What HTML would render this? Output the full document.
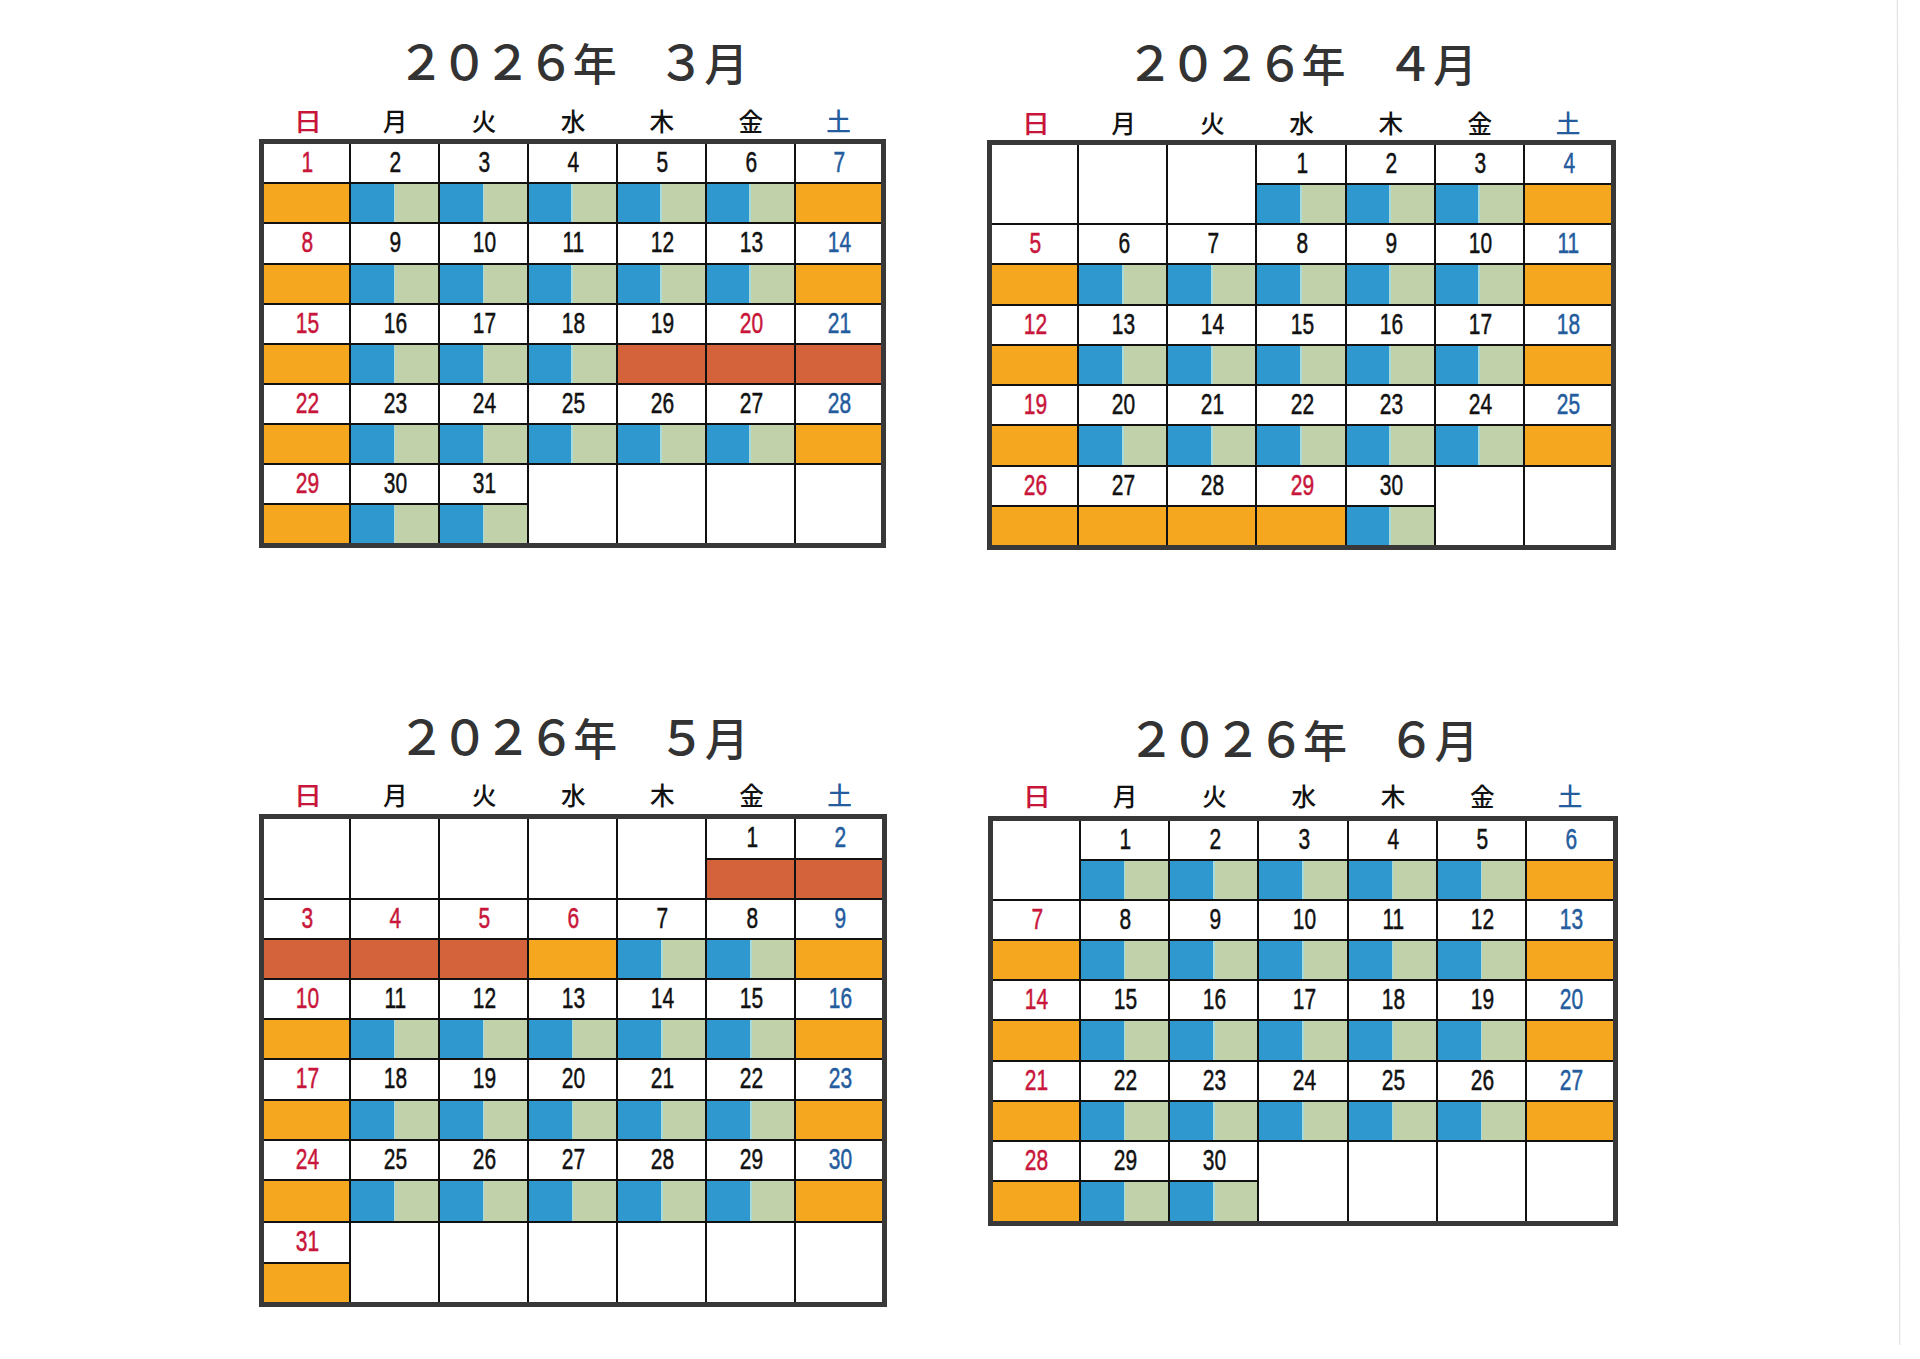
<!DOCTYPE html>
<html><head><meta charset="utf-8"><title>2026年 3月〜6月 カレンダー</title><style>
html,body{margin:0;padding:0;background:#fff;}
body{width:1920px;height:1359px;position:relative;overflow:hidden;}
.r{position:absolute;box-sizing:content-box;}
.n{position:absolute;text-align:center;font-family:"Liberation Sans","Noto Sans CJK JP",sans-serif;font-size:29.5px;-webkit-text-stroke:0.5px currentColor;}
.n span{display:inline-block;transform:translateX(1px) scaleX(0.71);}
.h{position:absolute;width:40px;text-align:center;font-family:"Liberation Sans","Noto Sans CJK JP",sans-serif;font-weight:500;font-size:24.6px;line-height:24px;}
.td{position:absolute;width:80px;text-align:center;font-family:"Liberation Sans","Noto Sans CJK JP",sans-serif;font-weight:500;font-size:48px;line-height:48px;color:#333;}
.tk{position:absolute;width:80px;text-align:center;font-family:"Liberation Sans","Noto Sans CJK JP",sans-serif;font-weight:500;font-size:44px;line-height:44px;color:#333;}
.edge{position:absolute;left:0;top:0;width:1920px;height:1359px;pointer-events:none;}
</style></head><body>
<div class="r" style="left:264px;top:183.4px;width:86px;height:40.05px;background:#f5a81f;"></div>
<div class="r" style="left:350px;top:183.4px;width:43.65px;height:40.05px;background:#2e98cf;"></div>
<div class="r" style="left:393.65px;top:183.4px;width:45.25px;height:40.05px;background:#c1d1aa;"></div>
<div class="r" style="left:393.65px;top:183.4px;width:1.6px;height:40.05px;background:#a8dbdc;"></div>
<div class="r" style="left:438.9px;top:183.4px;width:43.65px;height:40.05px;background:#2e98cf;"></div>
<div class="r" style="left:482.55px;top:183.4px;width:45.25px;height:40.05px;background:#c1d1aa;"></div>
<div class="r" style="left:482.55px;top:183.4px;width:1.6px;height:40.05px;background:#a8dbdc;"></div>
<div class="r" style="left:527.8px;top:183.4px;width:43.65px;height:40.05px;background:#2e98cf;"></div>
<div class="r" style="left:571.45px;top:183.4px;width:45.25px;height:40.05px;background:#c1d1aa;"></div>
<div class="r" style="left:571.45px;top:183.4px;width:1.6px;height:40.05px;background:#a8dbdc;"></div>
<div class="r" style="left:616.7px;top:183.4px;width:43.65px;height:40.05px;background:#2e98cf;"></div>
<div class="r" style="left:660.35px;top:183.4px;width:45.25px;height:40.05px;background:#c1d1aa;"></div>
<div class="r" style="left:660.35px;top:183.4px;width:1.6px;height:40.05px;background:#a8dbdc;"></div>
<div class="r" style="left:705.6px;top:183.4px;width:43.65px;height:40.05px;background:#2e98cf;"></div>
<div class="r" style="left:749.25px;top:183.4px;width:45.25px;height:40.05px;background:#c1d1aa;"></div>
<div class="r" style="left:749.25px;top:183.4px;width:1.6px;height:40.05px;background:#a8dbdc;"></div>
<div class="r" style="left:794.5px;top:183.4px;width:86.5px;height:40.05px;background:#f5a81f;"></div>
<div class="r" style="left:264px;top:263.5px;width:86px;height:40.05px;background:#f5a81f;"></div>
<div class="r" style="left:350px;top:263.5px;width:43.65px;height:40.05px;background:#2e98cf;"></div>
<div class="r" style="left:393.65px;top:263.5px;width:45.25px;height:40.05px;background:#c1d1aa;"></div>
<div class="r" style="left:393.65px;top:263.5px;width:1.6px;height:40.05px;background:#a8dbdc;"></div>
<div class="r" style="left:438.9px;top:263.5px;width:43.65px;height:40.05px;background:#2e98cf;"></div>
<div class="r" style="left:482.55px;top:263.5px;width:45.25px;height:40.05px;background:#c1d1aa;"></div>
<div class="r" style="left:482.55px;top:263.5px;width:1.6px;height:40.05px;background:#a8dbdc;"></div>
<div class="r" style="left:527.8px;top:263.5px;width:43.65px;height:40.05px;background:#2e98cf;"></div>
<div class="r" style="left:571.45px;top:263.5px;width:45.25px;height:40.05px;background:#c1d1aa;"></div>
<div class="r" style="left:571.45px;top:263.5px;width:1.6px;height:40.05px;background:#a8dbdc;"></div>
<div class="r" style="left:616.7px;top:263.5px;width:43.65px;height:40.05px;background:#2e98cf;"></div>
<div class="r" style="left:660.35px;top:263.5px;width:45.25px;height:40.05px;background:#c1d1aa;"></div>
<div class="r" style="left:660.35px;top:263.5px;width:1.6px;height:40.05px;background:#a8dbdc;"></div>
<div class="r" style="left:705.6px;top:263.5px;width:43.65px;height:40.05px;background:#2e98cf;"></div>
<div class="r" style="left:749.25px;top:263.5px;width:45.25px;height:40.05px;background:#c1d1aa;"></div>
<div class="r" style="left:749.25px;top:263.5px;width:1.6px;height:40.05px;background:#a8dbdc;"></div>
<div class="r" style="left:794.5px;top:263.5px;width:86.5px;height:40.05px;background:#f5a81f;"></div>
<div class="r" style="left:264px;top:343.6px;width:86px;height:40.05px;background:#f5a81f;"></div>
<div class="r" style="left:350px;top:343.6px;width:43.65px;height:40.05px;background:#2e98cf;"></div>
<div class="r" style="left:393.65px;top:343.6px;width:45.25px;height:40.05px;background:#c1d1aa;"></div>
<div class="r" style="left:393.65px;top:343.6px;width:1.6px;height:40.05px;background:#a8dbdc;"></div>
<div class="r" style="left:438.9px;top:343.6px;width:43.65px;height:40.05px;background:#2e98cf;"></div>
<div class="r" style="left:482.55px;top:343.6px;width:45.25px;height:40.05px;background:#c1d1aa;"></div>
<div class="r" style="left:482.55px;top:343.6px;width:1.6px;height:40.05px;background:#a8dbdc;"></div>
<div class="r" style="left:527.8px;top:343.6px;width:43.65px;height:40.05px;background:#2e98cf;"></div>
<div class="r" style="left:571.45px;top:343.6px;width:45.25px;height:40.05px;background:#c1d1aa;"></div>
<div class="r" style="left:571.45px;top:343.6px;width:1.6px;height:40.05px;background:#a8dbdc;"></div>
<div class="r" style="left:616.7px;top:343.6px;width:88.9px;height:40.05px;background:#d4623a;"></div>
<div class="r" style="left:705.6px;top:343.6px;width:88.9px;height:40.05px;background:#d4623a;"></div>
<div class="r" style="left:794.5px;top:343.6px;width:86.5px;height:40.05px;background:#d4623a;"></div>
<div class="r" style="left:264px;top:423.7px;width:86px;height:40.05px;background:#f5a81f;"></div>
<div class="r" style="left:350px;top:423.7px;width:43.65px;height:40.05px;background:#2e98cf;"></div>
<div class="r" style="left:393.65px;top:423.7px;width:45.25px;height:40.05px;background:#c1d1aa;"></div>
<div class="r" style="left:393.65px;top:423.7px;width:1.6px;height:40.05px;background:#a8dbdc;"></div>
<div class="r" style="left:438.9px;top:423.7px;width:43.65px;height:40.05px;background:#2e98cf;"></div>
<div class="r" style="left:482.55px;top:423.7px;width:45.25px;height:40.05px;background:#c1d1aa;"></div>
<div class="r" style="left:482.55px;top:423.7px;width:1.6px;height:40.05px;background:#a8dbdc;"></div>
<div class="r" style="left:527.8px;top:423.7px;width:43.65px;height:40.05px;background:#2e98cf;"></div>
<div class="r" style="left:571.45px;top:423.7px;width:45.25px;height:40.05px;background:#c1d1aa;"></div>
<div class="r" style="left:571.45px;top:423.7px;width:1.6px;height:40.05px;background:#a8dbdc;"></div>
<div class="r" style="left:616.7px;top:423.7px;width:43.65px;height:40.05px;background:#2e98cf;"></div>
<div class="r" style="left:660.35px;top:423.7px;width:45.25px;height:40.05px;background:#c1d1aa;"></div>
<div class="r" style="left:660.35px;top:423.7px;width:1.6px;height:40.05px;background:#a8dbdc;"></div>
<div class="r" style="left:705.6px;top:423.7px;width:43.65px;height:40.05px;background:#2e98cf;"></div>
<div class="r" style="left:749.25px;top:423.7px;width:45.25px;height:40.05px;background:#c1d1aa;"></div>
<div class="r" style="left:749.25px;top:423.7px;width:1.6px;height:40.05px;background:#a8dbdc;"></div>
<div class="r" style="left:794.5px;top:423.7px;width:86.5px;height:40.05px;background:#f5a81f;"></div>
<div class="r" style="left:264px;top:503.8px;width:86px;height:39.5px;background:#f5a81f;"></div>
<div class="r" style="left:350px;top:503.8px;width:43.65px;height:39.5px;background:#2e98cf;"></div>
<div class="r" style="left:393.65px;top:503.8px;width:45.25px;height:39.5px;background:#c1d1aa;"></div>
<div class="r" style="left:393.65px;top:503.8px;width:1.6px;height:39.5px;background:#a8dbdc;"></div>
<div class="r" style="left:438.9px;top:503.8px;width:43.65px;height:39.5px;background:#2e98cf;"></div>
<div class="r" style="left:482.55px;top:503.8px;width:45.25px;height:39.5px;background:#c1d1aa;"></div>
<div class="r" style="left:482.55px;top:503.8px;width:1.6px;height:39.5px;background:#a8dbdc;"></div>
<div class="r" style="left:349px;top:143.8px;width:2px;height:399.5px;background:#111;"></div>
<div class="r" style="left:437.9px;top:143.8px;width:2px;height:399.5px;background:#111;"></div>
<div class="r" style="left:526.8px;top:143.8px;width:2px;height:399.5px;background:#111;"></div>
<div class="r" style="left:615.7px;top:143.8px;width:2px;height:399.5px;background:#111;"></div>
<div class="r" style="left:704.6px;top:143.8px;width:2px;height:399.5px;background:#111;"></div>
<div class="r" style="left:793.5px;top:143.8px;width:2px;height:399.5px;background:#111;"></div>
<div class="r" style="left:264px;top:182.4px;width:617px;height:2px;background:#111;"></div>
<div class="r" style="left:264px;top:222.45px;width:617px;height:2px;background:#111;"></div>
<div class="r" style="left:264px;top:262.5px;width:617px;height:2px;background:#111;"></div>
<div class="r" style="left:264px;top:302.55px;width:617px;height:2px;background:#111;"></div>
<div class="r" style="left:264px;top:342.6px;width:617px;height:2px;background:#111;"></div>
<div class="r" style="left:264px;top:382.65px;width:617px;height:2px;background:#111;"></div>
<div class="r" style="left:264px;top:422.7px;width:617px;height:2px;background:#111;"></div>
<div class="r" style="left:264px;top:462.75px;width:617px;height:2px;background:#111;"></div>
<div class="r" style="left:264px;top:502.8px;width:264.8px;height:2px;background:#111;"></div>
<div class="r" style="left:259px;top:138.8px;width:617px;height:399.5px;border:5px solid #383838;"></div>
<div class="r" style="left:1256.4px;top:183.8px;width:43.75px;height:40.28px;background:#2e98cf;"></div>
<div class="r" style="left:1300.15px;top:183.8px;width:45.35px;height:40.28px;background:#c1d1aa;"></div>
<div class="r" style="left:1300.15px;top:183.8px;width:1.6px;height:40.28px;background:#a8dbdc;"></div>
<div class="r" style="left:1345.5px;top:183.8px;width:43.75px;height:40.28px;background:#2e98cf;"></div>
<div class="r" style="left:1389.25px;top:183.8px;width:45.35px;height:40.28px;background:#c1d1aa;"></div>
<div class="r" style="left:1389.25px;top:183.8px;width:1.6px;height:40.28px;background:#a8dbdc;"></div>
<div class="r" style="left:1434.6px;top:183.8px;width:43.75px;height:40.28px;background:#2e98cf;"></div>
<div class="r" style="left:1478.35px;top:183.8px;width:45.35px;height:40.28px;background:#c1d1aa;"></div>
<div class="r" style="left:1478.35px;top:183.8px;width:1.6px;height:40.28px;background:#a8dbdc;"></div>
<div class="r" style="left:1523.7px;top:183.8px;width:87.1px;height:40.28px;background:#f5a81f;"></div>
<div class="r" style="left:992px;top:264.36px;width:86.2px;height:40.28px;background:#f5a81f;"></div>
<div class="r" style="left:1078.2px;top:264.36px;width:43.75px;height:40.28px;background:#2e98cf;"></div>
<div class="r" style="left:1121.95px;top:264.36px;width:45.35px;height:40.28px;background:#c1d1aa;"></div>
<div class="r" style="left:1121.95px;top:264.36px;width:1.6px;height:40.28px;background:#a8dbdc;"></div>
<div class="r" style="left:1167.3px;top:264.36px;width:43.75px;height:40.28px;background:#2e98cf;"></div>
<div class="r" style="left:1211.05px;top:264.36px;width:45.35px;height:40.28px;background:#c1d1aa;"></div>
<div class="r" style="left:1211.05px;top:264.36px;width:1.6px;height:40.28px;background:#a8dbdc;"></div>
<div class="r" style="left:1256.4px;top:264.36px;width:43.75px;height:40.28px;background:#2e98cf;"></div>
<div class="r" style="left:1300.15px;top:264.36px;width:45.35px;height:40.28px;background:#c1d1aa;"></div>
<div class="r" style="left:1300.15px;top:264.36px;width:1.6px;height:40.28px;background:#a8dbdc;"></div>
<div class="r" style="left:1345.5px;top:264.36px;width:43.75px;height:40.28px;background:#2e98cf;"></div>
<div class="r" style="left:1389.25px;top:264.36px;width:45.35px;height:40.28px;background:#c1d1aa;"></div>
<div class="r" style="left:1389.25px;top:264.36px;width:1.6px;height:40.28px;background:#a8dbdc;"></div>
<div class="r" style="left:1434.6px;top:264.36px;width:43.75px;height:40.28px;background:#2e98cf;"></div>
<div class="r" style="left:1478.35px;top:264.36px;width:45.35px;height:40.28px;background:#c1d1aa;"></div>
<div class="r" style="left:1478.35px;top:264.36px;width:1.6px;height:40.28px;background:#a8dbdc;"></div>
<div class="r" style="left:1523.7px;top:264.36px;width:87.1px;height:40.28px;background:#f5a81f;"></div>
<div class="r" style="left:992px;top:344.92px;width:86.2px;height:40.28px;background:#f5a81f;"></div>
<div class="r" style="left:1078.2px;top:344.92px;width:43.75px;height:40.28px;background:#2e98cf;"></div>
<div class="r" style="left:1121.95px;top:344.92px;width:45.35px;height:40.28px;background:#c1d1aa;"></div>
<div class="r" style="left:1121.95px;top:344.92px;width:1.6px;height:40.28px;background:#a8dbdc;"></div>
<div class="r" style="left:1167.3px;top:344.92px;width:43.75px;height:40.28px;background:#2e98cf;"></div>
<div class="r" style="left:1211.05px;top:344.92px;width:45.35px;height:40.28px;background:#c1d1aa;"></div>
<div class="r" style="left:1211.05px;top:344.92px;width:1.6px;height:40.28px;background:#a8dbdc;"></div>
<div class="r" style="left:1256.4px;top:344.92px;width:43.75px;height:40.28px;background:#2e98cf;"></div>
<div class="r" style="left:1300.15px;top:344.92px;width:45.35px;height:40.28px;background:#c1d1aa;"></div>
<div class="r" style="left:1300.15px;top:344.92px;width:1.6px;height:40.28px;background:#a8dbdc;"></div>
<div class="r" style="left:1345.5px;top:344.92px;width:43.75px;height:40.28px;background:#2e98cf;"></div>
<div class="r" style="left:1389.25px;top:344.92px;width:45.35px;height:40.28px;background:#c1d1aa;"></div>
<div class="r" style="left:1389.25px;top:344.92px;width:1.6px;height:40.28px;background:#a8dbdc;"></div>
<div class="r" style="left:1434.6px;top:344.92px;width:43.75px;height:40.28px;background:#2e98cf;"></div>
<div class="r" style="left:1478.35px;top:344.92px;width:45.35px;height:40.28px;background:#c1d1aa;"></div>
<div class="r" style="left:1478.35px;top:344.92px;width:1.6px;height:40.28px;background:#a8dbdc;"></div>
<div class="r" style="left:1523.7px;top:344.92px;width:87.1px;height:40.28px;background:#f5a81f;"></div>
<div class="r" style="left:992px;top:425.48px;width:86.2px;height:40.28px;background:#f5a81f;"></div>
<div class="r" style="left:1078.2px;top:425.48px;width:43.75px;height:40.28px;background:#2e98cf;"></div>
<div class="r" style="left:1121.95px;top:425.48px;width:45.35px;height:40.28px;background:#c1d1aa;"></div>
<div class="r" style="left:1121.95px;top:425.48px;width:1.6px;height:40.28px;background:#a8dbdc;"></div>
<div class="r" style="left:1167.3px;top:425.48px;width:43.75px;height:40.28px;background:#2e98cf;"></div>
<div class="r" style="left:1211.05px;top:425.48px;width:45.35px;height:40.28px;background:#c1d1aa;"></div>
<div class="r" style="left:1211.05px;top:425.48px;width:1.6px;height:40.28px;background:#a8dbdc;"></div>
<div class="r" style="left:1256.4px;top:425.48px;width:43.75px;height:40.28px;background:#2e98cf;"></div>
<div class="r" style="left:1300.15px;top:425.48px;width:45.35px;height:40.28px;background:#c1d1aa;"></div>
<div class="r" style="left:1300.15px;top:425.48px;width:1.6px;height:40.28px;background:#a8dbdc;"></div>
<div class="r" style="left:1345.5px;top:425.48px;width:43.75px;height:40.28px;background:#2e98cf;"></div>
<div class="r" style="left:1389.25px;top:425.48px;width:45.35px;height:40.28px;background:#c1d1aa;"></div>
<div class="r" style="left:1389.25px;top:425.48px;width:1.6px;height:40.28px;background:#a8dbdc;"></div>
<div class="r" style="left:1434.6px;top:425.48px;width:43.75px;height:40.28px;background:#2e98cf;"></div>
<div class="r" style="left:1478.35px;top:425.48px;width:45.35px;height:40.28px;background:#c1d1aa;"></div>
<div class="r" style="left:1478.35px;top:425.48px;width:1.6px;height:40.28px;background:#a8dbdc;"></div>
<div class="r" style="left:1523.7px;top:425.48px;width:87.1px;height:40.28px;background:#f5a81f;"></div>
<div class="r" style="left:992px;top:506.04px;width:86.2px;height:38.96px;background:#f5a81f;"></div>
<div class="r" style="left:1078.2px;top:506.04px;width:89.1px;height:38.96px;background:#f5a81f;"></div>
<div class="r" style="left:1167.3px;top:506.04px;width:89.1px;height:38.96px;background:#f5a81f;"></div>
<div class="r" style="left:1256.4px;top:506.04px;width:89.1px;height:38.96px;background:#f5a81f;"></div>
<div class="r" style="left:1345.5px;top:506.04px;width:43.75px;height:38.96px;background:#2e98cf;"></div>
<div class="r" style="left:1389.25px;top:506.04px;width:45.35px;height:38.96px;background:#c1d1aa;"></div>
<div class="r" style="left:1389.25px;top:506.04px;width:1.6px;height:38.96px;background:#a8dbdc;"></div>
<div class="r" style="left:1077.2px;top:145px;width:2px;height:400px;background:#111;"></div>
<div class="r" style="left:1166.3px;top:145px;width:2px;height:400px;background:#111;"></div>
<div class="r" style="left:1255.4px;top:145px;width:2px;height:400px;background:#111;"></div>
<div class="r" style="left:1344.5px;top:145px;width:2px;height:400px;background:#111;"></div>
<div class="r" style="left:1433.6px;top:145px;width:2px;height:400px;background:#111;"></div>
<div class="r" style="left:1522.7px;top:145px;width:2px;height:400px;background:#111;"></div>
<div class="r" style="left:1255.4px;top:182.8px;width:355.4px;height:2px;background:#111;"></div>
<div class="r" style="left:992px;top:223.08px;width:618.8px;height:2px;background:#111;"></div>
<div class="r" style="left:992px;top:263.36px;width:618.8px;height:2px;background:#111;"></div>
<div class="r" style="left:992px;top:303.64px;width:618.8px;height:2px;background:#111;"></div>
<div class="r" style="left:992px;top:343.92px;width:618.8px;height:2px;background:#111;"></div>
<div class="r" style="left:992px;top:384.2px;width:618.8px;height:2px;background:#111;"></div>
<div class="r" style="left:992px;top:424.48px;width:618.8px;height:2px;background:#111;"></div>
<div class="r" style="left:992px;top:464.76px;width:618.8px;height:2px;background:#111;"></div>
<div class="r" style="left:992px;top:505.04px;width:443.6px;height:2px;background:#111;"></div>
<div class="r" style="left:987px;top:140px;width:618.8px;height:400px;border:5px solid #383838;"></div>
<div class="r" style="left:706.24px;top:858.5px;width:89.06px;height:40.1px;background:#d4623a;"></div>
<div class="r" style="left:795.3px;top:858.5px;width:87px;height:40.1px;background:#d4623a;"></div>
<div class="r" style="left:263.8px;top:938.6px;width:86.2px;height:40.1px;background:#d4623a;"></div>
<div class="r" style="left:350px;top:938.6px;width:89.06px;height:40.1px;background:#d4623a;"></div>
<div class="r" style="left:439.06px;top:938.6px;width:89.06px;height:40.1px;background:#d4623a;"></div>
<div class="r" style="left:528.12px;top:938.6px;width:89.06px;height:40.1px;background:#f5a81f;"></div>
<div class="r" style="left:617.18px;top:938.6px;width:43.73px;height:40.1px;background:#2e98cf;"></div>
<div class="r" style="left:660.91px;top:938.6px;width:45.33px;height:40.1px;background:#c1d1aa;"></div>
<div class="r" style="left:660.91px;top:938.6px;width:1.6px;height:40.1px;background:#a8dbdc;"></div>
<div class="r" style="left:706.24px;top:938.6px;width:43.73px;height:40.1px;background:#2e98cf;"></div>
<div class="r" style="left:749.97px;top:938.6px;width:45.33px;height:40.1px;background:#c1d1aa;"></div>
<div class="r" style="left:749.97px;top:938.6px;width:1.6px;height:40.1px;background:#a8dbdc;"></div>
<div class="r" style="left:795.3px;top:938.6px;width:87px;height:40.1px;background:#f5a81f;"></div>
<div class="r" style="left:263.8px;top:1018.8px;width:86.2px;height:40.1px;background:#f5a81f;"></div>
<div class="r" style="left:350px;top:1018.8px;width:43.73px;height:40.1px;background:#2e98cf;"></div>
<div class="r" style="left:393.73px;top:1018.8px;width:45.33px;height:40.1px;background:#c1d1aa;"></div>
<div class="r" style="left:393.73px;top:1018.8px;width:1.6px;height:40.1px;background:#a8dbdc;"></div>
<div class="r" style="left:439.06px;top:1018.8px;width:43.73px;height:40.1px;background:#2e98cf;"></div>
<div class="r" style="left:482.79px;top:1018.8px;width:45.33px;height:40.1px;background:#c1d1aa;"></div>
<div class="r" style="left:482.79px;top:1018.8px;width:1.6px;height:40.1px;background:#a8dbdc;"></div>
<div class="r" style="left:528.12px;top:1018.8px;width:43.73px;height:40.1px;background:#2e98cf;"></div>
<div class="r" style="left:571.85px;top:1018.8px;width:45.33px;height:40.1px;background:#c1d1aa;"></div>
<div class="r" style="left:571.85px;top:1018.8px;width:1.6px;height:40.1px;background:#a8dbdc;"></div>
<div class="r" style="left:617.18px;top:1018.8px;width:43.73px;height:40.1px;background:#2e98cf;"></div>
<div class="r" style="left:660.91px;top:1018.8px;width:45.33px;height:40.1px;background:#c1d1aa;"></div>
<div class="r" style="left:660.91px;top:1018.8px;width:1.6px;height:40.1px;background:#a8dbdc;"></div>
<div class="r" style="left:706.24px;top:1018.8px;width:43.73px;height:40.1px;background:#2e98cf;"></div>
<div class="r" style="left:749.97px;top:1018.8px;width:45.33px;height:40.1px;background:#c1d1aa;"></div>
<div class="r" style="left:749.97px;top:1018.8px;width:1.6px;height:40.1px;background:#a8dbdc;"></div>
<div class="r" style="left:795.3px;top:1018.8px;width:87px;height:40.1px;background:#f5a81f;"></div>
<div class="r" style="left:263.8px;top:1099.8px;width:86.2px;height:40.2px;background:#f5a81f;"></div>
<div class="r" style="left:350px;top:1099.8px;width:43.73px;height:40.2px;background:#2e98cf;"></div>
<div class="r" style="left:393.73px;top:1099.8px;width:45.33px;height:40.2px;background:#c1d1aa;"></div>
<div class="r" style="left:393.73px;top:1099.8px;width:1.6px;height:40.2px;background:#a8dbdc;"></div>
<div class="r" style="left:439.06px;top:1099.8px;width:43.73px;height:40.2px;background:#2e98cf;"></div>
<div class="r" style="left:482.79px;top:1099.8px;width:45.33px;height:40.2px;background:#c1d1aa;"></div>
<div class="r" style="left:482.79px;top:1099.8px;width:1.6px;height:40.2px;background:#a8dbdc;"></div>
<div class="r" style="left:528.12px;top:1099.8px;width:43.73px;height:40.2px;background:#2e98cf;"></div>
<div class="r" style="left:571.85px;top:1099.8px;width:45.33px;height:40.2px;background:#c1d1aa;"></div>
<div class="r" style="left:571.85px;top:1099.8px;width:1.6px;height:40.2px;background:#a8dbdc;"></div>
<div class="r" style="left:617.18px;top:1099.8px;width:43.73px;height:40.2px;background:#2e98cf;"></div>
<div class="r" style="left:660.91px;top:1099.8px;width:45.33px;height:40.2px;background:#c1d1aa;"></div>
<div class="r" style="left:660.91px;top:1099.8px;width:1.6px;height:40.2px;background:#a8dbdc;"></div>
<div class="r" style="left:706.24px;top:1099.8px;width:43.73px;height:40.2px;background:#2e98cf;"></div>
<div class="r" style="left:749.97px;top:1099.8px;width:45.33px;height:40.2px;background:#c1d1aa;"></div>
<div class="r" style="left:749.97px;top:1099.8px;width:1.6px;height:40.2px;background:#a8dbdc;"></div>
<div class="r" style="left:795.3px;top:1099.8px;width:87px;height:40.2px;background:#f5a81f;"></div>
<div class="r" style="left:263.8px;top:1180.2px;width:86.2px;height:41.8px;background:#f5a81f;"></div>
<div class="r" style="left:350px;top:1180.2px;width:43.73px;height:41.8px;background:#2e98cf;"></div>
<div class="r" style="left:393.73px;top:1180.2px;width:45.33px;height:41.8px;background:#c1d1aa;"></div>
<div class="r" style="left:393.73px;top:1180.2px;width:1.6px;height:41.8px;background:#a8dbdc;"></div>
<div class="r" style="left:439.06px;top:1180.2px;width:43.73px;height:41.8px;background:#2e98cf;"></div>
<div class="r" style="left:482.79px;top:1180.2px;width:45.33px;height:41.8px;background:#c1d1aa;"></div>
<div class="r" style="left:482.79px;top:1180.2px;width:1.6px;height:41.8px;background:#a8dbdc;"></div>
<div class="r" style="left:528.12px;top:1180.2px;width:43.73px;height:41.8px;background:#2e98cf;"></div>
<div class="r" style="left:571.85px;top:1180.2px;width:45.33px;height:41.8px;background:#c1d1aa;"></div>
<div class="r" style="left:571.85px;top:1180.2px;width:1.6px;height:41.8px;background:#a8dbdc;"></div>
<div class="r" style="left:617.18px;top:1180.2px;width:43.73px;height:41.8px;background:#2e98cf;"></div>
<div class="r" style="left:660.91px;top:1180.2px;width:45.33px;height:41.8px;background:#c1d1aa;"></div>
<div class="r" style="left:660.91px;top:1180.2px;width:1.6px;height:41.8px;background:#a8dbdc;"></div>
<div class="r" style="left:706.24px;top:1180.2px;width:43.73px;height:41.8px;background:#2e98cf;"></div>
<div class="r" style="left:749.97px;top:1180.2px;width:45.33px;height:41.8px;background:#c1d1aa;"></div>
<div class="r" style="left:749.97px;top:1180.2px;width:1.6px;height:41.8px;background:#a8dbdc;"></div>
<div class="r" style="left:795.3px;top:1180.2px;width:87px;height:41.8px;background:#f5a81f;"></div>
<div class="r" style="left:263.8px;top:1262.9px;width:86.2px;height:39.4px;background:#f5a81f;"></div>
<div class="r" style="left:349px;top:819px;width:2px;height:483.3px;background:#111;"></div>
<div class="r" style="left:438.06px;top:819px;width:2px;height:483.3px;background:#111;"></div>
<div class="r" style="left:527.12px;top:819px;width:2px;height:483.3px;background:#111;"></div>
<div class="r" style="left:616.18px;top:819px;width:2px;height:483.3px;background:#111;"></div>
<div class="r" style="left:705.24px;top:819px;width:2px;height:483.3px;background:#111;"></div>
<div class="r" style="left:794.3px;top:819px;width:2px;height:483.3px;background:#111;"></div>
<div class="r" style="left:705.24px;top:857.5px;width:177.06px;height:2px;background:#111;"></div>
<div class="r" style="left:263.8px;top:897.6px;width:618.5px;height:2px;background:#111;"></div>
<div class="r" style="left:263.8px;top:937.6px;width:618.5px;height:2px;background:#111;"></div>
<div class="r" style="left:263.8px;top:977.7px;width:618.5px;height:2px;background:#111;"></div>
<div class="r" style="left:263.8px;top:1017.8px;width:618.5px;height:2px;background:#111;"></div>
<div class="r" style="left:263.8px;top:1057.9px;width:618.5px;height:2px;background:#111;"></div>
<div class="r" style="left:263.8px;top:1098.8px;width:618.5px;height:2px;background:#111;"></div>
<div class="r" style="left:263.8px;top:1139px;width:618.5px;height:2px;background:#111;"></div>
<div class="r" style="left:263.8px;top:1179.2px;width:618.5px;height:2px;background:#111;"></div>
<div class="r" style="left:263.8px;top:1221px;width:618.5px;height:2px;background:#111;"></div>
<div class="r" style="left:263.8px;top:1261.9px;width:87.2px;height:2px;background:#111;"></div>
<div class="r" style="left:258.8px;top:814px;width:618.5px;height:483.3px;border:5px solid #383838;"></div>
<div class="r" style="left:1079.8px;top:859.5px;width:43.85px;height:40.2px;background:#2e98cf;"></div>
<div class="r" style="left:1123.65px;top:859.5px;width:45.45px;height:40.2px;background:#c1d1aa;"></div>
<div class="r" style="left:1123.65px;top:859.5px;width:1.6px;height:40.2px;background:#a8dbdc;"></div>
<div class="r" style="left:1169.1px;top:859.5px;width:43.85px;height:40.2px;background:#2e98cf;"></div>
<div class="r" style="left:1212.95px;top:859.5px;width:45.45px;height:40.2px;background:#c1d1aa;"></div>
<div class="r" style="left:1212.95px;top:859.5px;width:1.6px;height:40.2px;background:#a8dbdc;"></div>
<div class="r" style="left:1258.4px;top:859.5px;width:43.85px;height:40.2px;background:#2e98cf;"></div>
<div class="r" style="left:1302.25px;top:859.5px;width:45.45px;height:40.2px;background:#c1d1aa;"></div>
<div class="r" style="left:1302.25px;top:859.5px;width:1.6px;height:40.2px;background:#a8dbdc;"></div>
<div class="r" style="left:1347.7px;top:859.5px;width:43.85px;height:40.2px;background:#2e98cf;"></div>
<div class="r" style="left:1391.55px;top:859.5px;width:45.45px;height:40.2px;background:#c1d1aa;"></div>
<div class="r" style="left:1391.55px;top:859.5px;width:1.6px;height:40.2px;background:#a8dbdc;"></div>
<div class="r" style="left:1437px;top:859.5px;width:43.85px;height:40.2px;background:#2e98cf;"></div>
<div class="r" style="left:1480.85px;top:859.5px;width:45.45px;height:40.2px;background:#c1d1aa;"></div>
<div class="r" style="left:1480.85px;top:859.5px;width:1.6px;height:40.2px;background:#a8dbdc;"></div>
<div class="r" style="left:1526.3px;top:859.5px;width:86.3px;height:40.2px;background:#f5a81f;"></div>
<div class="r" style="left:993px;top:939.9px;width:86.8px;height:40.2px;background:#f5a81f;"></div>
<div class="r" style="left:1079.8px;top:939.9px;width:43.85px;height:40.2px;background:#2e98cf;"></div>
<div class="r" style="left:1123.65px;top:939.9px;width:45.45px;height:40.2px;background:#c1d1aa;"></div>
<div class="r" style="left:1123.65px;top:939.9px;width:1.6px;height:40.2px;background:#a8dbdc;"></div>
<div class="r" style="left:1169.1px;top:939.9px;width:43.85px;height:40.2px;background:#2e98cf;"></div>
<div class="r" style="left:1212.95px;top:939.9px;width:45.45px;height:40.2px;background:#c1d1aa;"></div>
<div class="r" style="left:1212.95px;top:939.9px;width:1.6px;height:40.2px;background:#a8dbdc;"></div>
<div class="r" style="left:1258.4px;top:939.9px;width:43.85px;height:40.2px;background:#2e98cf;"></div>
<div class="r" style="left:1302.25px;top:939.9px;width:45.45px;height:40.2px;background:#c1d1aa;"></div>
<div class="r" style="left:1302.25px;top:939.9px;width:1.6px;height:40.2px;background:#a8dbdc;"></div>
<div class="r" style="left:1347.7px;top:939.9px;width:43.85px;height:40.2px;background:#2e98cf;"></div>
<div class="r" style="left:1391.55px;top:939.9px;width:45.45px;height:40.2px;background:#c1d1aa;"></div>
<div class="r" style="left:1391.55px;top:939.9px;width:1.6px;height:40.2px;background:#a8dbdc;"></div>
<div class="r" style="left:1437px;top:939.9px;width:43.85px;height:40.2px;background:#2e98cf;"></div>
<div class="r" style="left:1480.85px;top:939.9px;width:45.45px;height:40.2px;background:#c1d1aa;"></div>
<div class="r" style="left:1480.85px;top:939.9px;width:1.6px;height:40.2px;background:#a8dbdc;"></div>
<div class="r" style="left:1526.3px;top:939.9px;width:86.3px;height:40.2px;background:#f5a81f;"></div>
<div class="r" style="left:993px;top:1020.3px;width:86.8px;height:40.2px;background:#f5a81f;"></div>
<div class="r" style="left:1079.8px;top:1020.3px;width:43.85px;height:40.2px;background:#2e98cf;"></div>
<div class="r" style="left:1123.65px;top:1020.3px;width:45.45px;height:40.2px;background:#c1d1aa;"></div>
<div class="r" style="left:1123.65px;top:1020.3px;width:1.6px;height:40.2px;background:#a8dbdc;"></div>
<div class="r" style="left:1169.1px;top:1020.3px;width:43.85px;height:40.2px;background:#2e98cf;"></div>
<div class="r" style="left:1212.95px;top:1020.3px;width:45.45px;height:40.2px;background:#c1d1aa;"></div>
<div class="r" style="left:1212.95px;top:1020.3px;width:1.6px;height:40.2px;background:#a8dbdc;"></div>
<div class="r" style="left:1258.4px;top:1020.3px;width:43.85px;height:40.2px;background:#2e98cf;"></div>
<div class="r" style="left:1302.25px;top:1020.3px;width:45.45px;height:40.2px;background:#c1d1aa;"></div>
<div class="r" style="left:1302.25px;top:1020.3px;width:1.6px;height:40.2px;background:#a8dbdc;"></div>
<div class="r" style="left:1347.7px;top:1020.3px;width:43.85px;height:40.2px;background:#2e98cf;"></div>
<div class="r" style="left:1391.55px;top:1020.3px;width:45.45px;height:40.2px;background:#c1d1aa;"></div>
<div class="r" style="left:1391.55px;top:1020.3px;width:1.6px;height:40.2px;background:#a8dbdc;"></div>
<div class="r" style="left:1437px;top:1020.3px;width:43.85px;height:40.2px;background:#2e98cf;"></div>
<div class="r" style="left:1480.85px;top:1020.3px;width:45.45px;height:40.2px;background:#c1d1aa;"></div>
<div class="r" style="left:1480.85px;top:1020.3px;width:1.6px;height:40.2px;background:#a8dbdc;"></div>
<div class="r" style="left:1526.3px;top:1020.3px;width:86.3px;height:40.2px;background:#f5a81f;"></div>
<div class="r" style="left:993px;top:1100.7px;width:86.8px;height:40.2px;background:#f5a81f;"></div>
<div class="r" style="left:1079.8px;top:1100.7px;width:43.85px;height:40.2px;background:#2e98cf;"></div>
<div class="r" style="left:1123.65px;top:1100.7px;width:45.45px;height:40.2px;background:#c1d1aa;"></div>
<div class="r" style="left:1123.65px;top:1100.7px;width:1.6px;height:40.2px;background:#a8dbdc;"></div>
<div class="r" style="left:1169.1px;top:1100.7px;width:43.85px;height:40.2px;background:#2e98cf;"></div>
<div class="r" style="left:1212.95px;top:1100.7px;width:45.45px;height:40.2px;background:#c1d1aa;"></div>
<div class="r" style="left:1212.95px;top:1100.7px;width:1.6px;height:40.2px;background:#a8dbdc;"></div>
<div class="r" style="left:1258.4px;top:1100.7px;width:43.85px;height:40.2px;background:#2e98cf;"></div>
<div class="r" style="left:1302.25px;top:1100.7px;width:45.45px;height:40.2px;background:#c1d1aa;"></div>
<div class="r" style="left:1302.25px;top:1100.7px;width:1.6px;height:40.2px;background:#a8dbdc;"></div>
<div class="r" style="left:1347.7px;top:1100.7px;width:43.85px;height:40.2px;background:#2e98cf;"></div>
<div class="r" style="left:1391.55px;top:1100.7px;width:45.45px;height:40.2px;background:#c1d1aa;"></div>
<div class="r" style="left:1391.55px;top:1100.7px;width:1.6px;height:40.2px;background:#a8dbdc;"></div>
<div class="r" style="left:1437px;top:1100.7px;width:43.85px;height:40.2px;background:#2e98cf;"></div>
<div class="r" style="left:1480.85px;top:1100.7px;width:45.45px;height:40.2px;background:#c1d1aa;"></div>
<div class="r" style="left:1480.85px;top:1100.7px;width:1.6px;height:40.2px;background:#a8dbdc;"></div>
<div class="r" style="left:1526.3px;top:1100.7px;width:86.3px;height:40.2px;background:#f5a81f;"></div>
<div class="r" style="left:993px;top:1181.1px;width:86.8px;height:39.7px;background:#f5a81f;"></div>
<div class="r" style="left:1079.8px;top:1181.1px;width:43.85px;height:39.7px;background:#2e98cf;"></div>
<div class="r" style="left:1123.65px;top:1181.1px;width:45.45px;height:39.7px;background:#c1d1aa;"></div>
<div class="r" style="left:1123.65px;top:1181.1px;width:1.6px;height:39.7px;background:#a8dbdc;"></div>
<div class="r" style="left:1169.1px;top:1181.1px;width:43.85px;height:39.7px;background:#2e98cf;"></div>
<div class="r" style="left:1212.95px;top:1181.1px;width:45.45px;height:39.7px;background:#c1d1aa;"></div>
<div class="r" style="left:1212.95px;top:1181.1px;width:1.6px;height:39.7px;background:#a8dbdc;"></div>
<div class="r" style="left:1078.8px;top:820.6px;width:2px;height:400.2px;background:#111;"></div>
<div class="r" style="left:1168.1px;top:820.6px;width:2px;height:400.2px;background:#111;"></div>
<div class="r" style="left:1257.4px;top:820.6px;width:2px;height:400.2px;background:#111;"></div>
<div class="r" style="left:1346.7px;top:820.6px;width:2px;height:400.2px;background:#111;"></div>
<div class="r" style="left:1436px;top:820.6px;width:2px;height:400.2px;background:#111;"></div>
<div class="r" style="left:1525.3px;top:820.6px;width:2px;height:400.2px;background:#111;"></div>
<div class="r" style="left:1078.8px;top:858.5px;width:533.8px;height:2px;background:#111;"></div>
<div class="r" style="left:993px;top:898.7px;width:619.6px;height:2px;background:#111;"></div>
<div class="r" style="left:993px;top:938.9px;width:619.6px;height:2px;background:#111;"></div>
<div class="r" style="left:993px;top:979.1px;width:619.6px;height:2px;background:#111;"></div>
<div class="r" style="left:993px;top:1019.3px;width:619.6px;height:2px;background:#111;"></div>
<div class="r" style="left:993px;top:1059.5px;width:619.6px;height:2px;background:#111;"></div>
<div class="r" style="left:993px;top:1099.7px;width:619.6px;height:2px;background:#111;"></div>
<div class="r" style="left:993px;top:1139.9px;width:619.6px;height:2px;background:#111;"></div>
<div class="r" style="left:993px;top:1180.1px;width:266.4px;height:2px;background:#111;"></div>
<div class="r" style="left:988px;top:815.6px;width:619.6px;height:400.2px;border:5px solid #383838;"></div>
<div class="n" style="left:264px;top:142.8px;width:85px;height:38.6px;line-height:38.6px;color:#c8153a"><span>1</span></div>
<div class="n" style="left:351px;top:142.8px;width:86.9px;height:38.6px;line-height:38.6px;color:#111"><span>2</span></div>
<div class="n" style="left:439.9px;top:142.8px;width:86.9px;height:38.6px;line-height:38.6px;color:#111"><span>3</span></div>
<div class="n" style="left:528.8px;top:142.8px;width:86.9px;height:38.6px;line-height:38.6px;color:#111"><span>4</span></div>
<div class="n" style="left:617.7px;top:142.8px;width:86.9px;height:38.6px;line-height:38.6px;color:#111"><span>5</span></div>
<div class="n" style="left:706.6px;top:142.8px;width:86.9px;height:38.6px;line-height:38.6px;color:#111"><span>6</span></div>
<div class="n" style="left:795.5px;top:142.8px;width:85.5px;height:38.6px;line-height:38.6px;color:#245c9e"><span>7</span></div>
<div class="n" style="left:264px;top:223.45px;width:85px;height:38.05px;line-height:38.05px;color:#c8153a"><span>8</span></div>
<div class="n" style="left:351px;top:223.45px;width:86.9px;height:38.05px;line-height:38.05px;color:#111"><span>9</span></div>
<div class="n" style="left:439.9px;top:223.45px;width:86.9px;height:38.05px;line-height:38.05px;color:#111"><span>10</span></div>
<div class="n" style="left:528.8px;top:223.45px;width:86.9px;height:38.05px;line-height:38.05px;color:#111"><span>11</span></div>
<div class="n" style="left:617.7px;top:223.45px;width:86.9px;height:38.05px;line-height:38.05px;color:#111"><span>12</span></div>
<div class="n" style="left:706.6px;top:223.45px;width:86.9px;height:38.05px;line-height:38.05px;color:#111"><span>13</span></div>
<div class="n" style="left:795.5px;top:223.45px;width:85.5px;height:38.05px;line-height:38.05px;color:#245c9e"><span>14</span></div>
<div class="n" style="left:264px;top:303.55px;width:85px;height:38.05px;line-height:38.05px;color:#c8153a"><span>15</span></div>
<div class="n" style="left:351px;top:303.55px;width:86.9px;height:38.05px;line-height:38.05px;color:#111"><span>16</span></div>
<div class="n" style="left:439.9px;top:303.55px;width:86.9px;height:38.05px;line-height:38.05px;color:#111"><span>17</span></div>
<div class="n" style="left:528.8px;top:303.55px;width:86.9px;height:38.05px;line-height:38.05px;color:#111"><span>18</span></div>
<div class="n" style="left:617.7px;top:303.55px;width:86.9px;height:38.05px;line-height:38.05px;color:#111"><span>19</span></div>
<div class="n" style="left:706.6px;top:303.55px;width:86.9px;height:38.05px;line-height:38.05px;color:#c8153a"><span>20</span></div>
<div class="n" style="left:795.5px;top:303.55px;width:85.5px;height:38.05px;line-height:38.05px;color:#245c9e"><span>21</span></div>
<div class="n" style="left:264px;top:383.65px;width:85px;height:38.05px;line-height:38.05px;color:#c8153a"><span>22</span></div>
<div class="n" style="left:351px;top:383.65px;width:86.9px;height:38.05px;line-height:38.05px;color:#111"><span>23</span></div>
<div class="n" style="left:439.9px;top:383.65px;width:86.9px;height:38.05px;line-height:38.05px;color:#111"><span>24</span></div>
<div class="n" style="left:528.8px;top:383.65px;width:86.9px;height:38.05px;line-height:38.05px;color:#111"><span>25</span></div>
<div class="n" style="left:617.7px;top:383.65px;width:86.9px;height:38.05px;line-height:38.05px;color:#111"><span>26</span></div>
<div class="n" style="left:706.6px;top:383.65px;width:86.9px;height:38.05px;line-height:38.05px;color:#111"><span>27</span></div>
<div class="n" style="left:795.5px;top:383.65px;width:85.5px;height:38.05px;line-height:38.05px;color:#245c9e"><span>28</span></div>
<div class="n" style="left:264px;top:463.75px;width:85px;height:38.05px;line-height:38.05px;color:#c8153a"><span>29</span></div>
<div class="n" style="left:351px;top:463.75px;width:86.9px;height:38.05px;line-height:38.05px;color:#111"><span>30</span></div>
<div class="n" style="left:439.9px;top:463.75px;width:86.9px;height:38.05px;line-height:38.05px;color:#111"><span>31</span></div>
<div class="h" style="left:287.7px;top:111.3px;color:#c8153a;transform:scaleX(1.15);">日</div>
<div class="h" style="left:375.15px;top:111.3px;color:#111;">月</div>
<div class="h" style="left:464.05px;top:111.3px;color:#111;">火</div>
<div class="h" style="left:552.95px;top:111.3px;color:#111;">水</div>
<div class="h" style="left:641.85px;top:111.3px;color:#111;">木</div>
<div class="h" style="left:730.75px;top:111.3px;color:#111;">金</div>
<div class="h" style="left:818.45px;top:111.3px;color:#245c9e;">土</div>
<div class="td" style="left:381px;top:40px;">２</div>
<div class="td" style="left:424.2px;top:40px;">０</div>
<div class="td" style="left:467.5px;top:40px;">２</div>
<div class="td" style="left:511px;top:40px;">６</div>
<div class="tk" style="left:554.7px;top:43.8px;">年</div>
<div class="td" style="left:641.2px;top:40px;">３</div>
<div class="tk" style="left:686.2px;top:43.8px;">月</div>
<div class="n" style="left:1257.4px;top:144px;width:87.1px;height:37.8px;line-height:37.8px;color:#111"><span>1</span></div>
<div class="n" style="left:1346.5px;top:144px;width:87.1px;height:37.8px;line-height:37.8px;color:#111"><span>2</span></div>
<div class="n" style="left:1435.6px;top:144px;width:87.1px;height:37.8px;line-height:37.8px;color:#111"><span>3</span></div>
<div class="n" style="left:1524.7px;top:144px;width:86.1px;height:37.8px;line-height:37.8px;color:#245c9e"><span>4</span></div>
<div class="n" style="left:992px;top:224.08px;width:85.2px;height:38.28px;line-height:38.28px;color:#c8153a"><span>5</span></div>
<div class="n" style="left:1079.2px;top:224.08px;width:87.1px;height:38.28px;line-height:38.28px;color:#111"><span>6</span></div>
<div class="n" style="left:1168.3px;top:224.08px;width:87.1px;height:38.28px;line-height:38.28px;color:#111"><span>7</span></div>
<div class="n" style="left:1257.4px;top:224.08px;width:87.1px;height:38.28px;line-height:38.28px;color:#111"><span>8</span></div>
<div class="n" style="left:1346.5px;top:224.08px;width:87.1px;height:38.28px;line-height:38.28px;color:#111"><span>9</span></div>
<div class="n" style="left:1435.6px;top:224.08px;width:87.1px;height:38.28px;line-height:38.28px;color:#111"><span>10</span></div>
<div class="n" style="left:1524.7px;top:224.08px;width:86.1px;height:38.28px;line-height:38.28px;color:#245c9e"><span>11</span></div>
<div class="n" style="left:992px;top:304.64px;width:85.2px;height:38.28px;line-height:38.28px;color:#c8153a"><span>12</span></div>
<div class="n" style="left:1079.2px;top:304.64px;width:87.1px;height:38.28px;line-height:38.28px;color:#111"><span>13</span></div>
<div class="n" style="left:1168.3px;top:304.64px;width:87.1px;height:38.28px;line-height:38.28px;color:#111"><span>14</span></div>
<div class="n" style="left:1257.4px;top:304.64px;width:87.1px;height:38.28px;line-height:38.28px;color:#111"><span>15</span></div>
<div class="n" style="left:1346.5px;top:304.64px;width:87.1px;height:38.28px;line-height:38.28px;color:#111"><span>16</span></div>
<div class="n" style="left:1435.6px;top:304.64px;width:87.1px;height:38.28px;line-height:38.28px;color:#111"><span>17</span></div>
<div class="n" style="left:1524.7px;top:304.64px;width:86.1px;height:38.28px;line-height:38.28px;color:#245c9e"><span>18</span></div>
<div class="n" style="left:992px;top:385.2px;width:85.2px;height:38.28px;line-height:38.28px;color:#c8153a"><span>19</span></div>
<div class="n" style="left:1079.2px;top:385.2px;width:87.1px;height:38.28px;line-height:38.28px;color:#111"><span>20</span></div>
<div class="n" style="left:1168.3px;top:385.2px;width:87.1px;height:38.28px;line-height:38.28px;color:#111"><span>21</span></div>
<div class="n" style="left:1257.4px;top:385.2px;width:87.1px;height:38.28px;line-height:38.28px;color:#111"><span>22</span></div>
<div class="n" style="left:1346.5px;top:385.2px;width:87.1px;height:38.28px;line-height:38.28px;color:#111"><span>23</span></div>
<div class="n" style="left:1435.6px;top:385.2px;width:87.1px;height:38.28px;line-height:38.28px;color:#111"><span>24</span></div>
<div class="n" style="left:1524.7px;top:385.2px;width:86.1px;height:38.28px;line-height:38.28px;color:#245c9e"><span>25</span></div>
<div class="n" style="left:992px;top:465.76px;width:85.2px;height:38.28px;line-height:38.28px;color:#c8153a"><span>26</span></div>
<div class="n" style="left:1079.2px;top:465.76px;width:87.1px;height:38.28px;line-height:38.28px;color:#111"><span>27</span></div>
<div class="n" style="left:1168.3px;top:465.76px;width:87.1px;height:38.28px;line-height:38.28px;color:#111"><span>28</span></div>
<div class="n" style="left:1257.4px;top:465.76px;width:87.1px;height:38.28px;line-height:38.28px;color:#c8153a"><span>29</span></div>
<div class="n" style="left:1346.5px;top:465.76px;width:87.1px;height:38.28px;line-height:38.28px;color:#111"><span>30</span></div>
<div class="h" style="left:1015.8px;top:112.5px;color:#c8153a;transform:scaleX(1.15);">日</div>
<div class="h" style="left:1103.45px;top:112.5px;color:#111;">月</div>
<div class="h" style="left:1192.55px;top:112.5px;color:#111;">火</div>
<div class="h" style="left:1281.65px;top:112.5px;color:#111;">水</div>
<div class="h" style="left:1370.75px;top:112.5px;color:#111;">木</div>
<div class="h" style="left:1459.85px;top:112.5px;color:#111;">金</div>
<div class="h" style="left:1547.95px;top:112.5px;color:#245c9e;">土</div>
<div class="td" style="left:1109.9px;top:41.2px;">２</div>
<div class="td" style="left:1153.1px;top:41.2px;">０</div>
<div class="td" style="left:1196.4px;top:41.2px;">２</div>
<div class="td" style="left:1239.9px;top:41.2px;">６</div>
<div class="tk" style="left:1283.6px;top:45px;">年</div>
<div class="td" style="left:1370.1px;top:41.2px;">４</div>
<div class="tk" style="left:1415.1px;top:45px;">月</div>
<div class="n" style="left:707.24px;top:818px;width:87.06px;height:38.5px;line-height:38.5px;color:#111"><span>1</span></div>
<div class="n" style="left:796.3px;top:818px;width:86px;height:38.5px;line-height:38.5px;color:#245c9e"><span>2</span></div>
<div class="n" style="left:263.8px;top:898.6px;width:85.2px;height:38px;line-height:38px;color:#c8153a"><span>3</span></div>
<div class="n" style="left:351px;top:898.6px;width:87.06px;height:38px;line-height:38px;color:#c8153a"><span>4</span></div>
<div class="n" style="left:440.06px;top:898.6px;width:87.06px;height:38px;line-height:38px;color:#c8153a"><span>5</span></div>
<div class="n" style="left:529.12px;top:898.6px;width:87.06px;height:38px;line-height:38px;color:#c8153a"><span>6</span></div>
<div class="n" style="left:618.18px;top:898.6px;width:87.06px;height:38px;line-height:38px;color:#111"><span>7</span></div>
<div class="n" style="left:707.24px;top:898.6px;width:87.06px;height:38px;line-height:38px;color:#111"><span>8</span></div>
<div class="n" style="left:796.3px;top:898.6px;width:86px;height:38px;line-height:38px;color:#245c9e"><span>9</span></div>
<div class="n" style="left:263.8px;top:978.7px;width:85.2px;height:38.1px;line-height:38.1px;color:#c8153a"><span>10</span></div>
<div class="n" style="left:351px;top:978.7px;width:87.06px;height:38.1px;line-height:38.1px;color:#111"><span>11</span></div>
<div class="n" style="left:440.06px;top:978.7px;width:87.06px;height:38.1px;line-height:38.1px;color:#111"><span>12</span></div>
<div class="n" style="left:529.12px;top:978.7px;width:87.06px;height:38.1px;line-height:38.1px;color:#111"><span>13</span></div>
<div class="n" style="left:618.18px;top:978.7px;width:87.06px;height:38.1px;line-height:38.1px;color:#111"><span>14</span></div>
<div class="n" style="left:707.24px;top:978.7px;width:87.06px;height:38.1px;line-height:38.1px;color:#111"><span>15</span></div>
<div class="n" style="left:796.3px;top:978.7px;width:86px;height:38.1px;line-height:38.1px;color:#245c9e"><span>16</span></div>
<div class="n" style="left:263.8px;top:1058.9px;width:85.2px;height:38.9px;line-height:38.9px;color:#c8153a"><span>17</span></div>
<div class="n" style="left:351px;top:1058.9px;width:87.06px;height:38.9px;line-height:38.9px;color:#111"><span>18</span></div>
<div class="n" style="left:440.06px;top:1058.9px;width:87.06px;height:38.9px;line-height:38.9px;color:#111"><span>19</span></div>
<div class="n" style="left:529.12px;top:1058.9px;width:87.06px;height:38.9px;line-height:38.9px;color:#111"><span>20</span></div>
<div class="n" style="left:618.18px;top:1058.9px;width:87.06px;height:38.9px;line-height:38.9px;color:#111"><span>21</span></div>
<div class="n" style="left:707.24px;top:1058.9px;width:87.06px;height:38.9px;line-height:38.9px;color:#111"><span>22</span></div>
<div class="n" style="left:796.3px;top:1058.9px;width:86px;height:38.9px;line-height:38.9px;color:#245c9e"><span>23</span></div>
<div class="n" style="left:263.8px;top:1140px;width:85.2px;height:38.2px;line-height:38.2px;color:#c8153a"><span>24</span></div>
<div class="n" style="left:351px;top:1140px;width:87.06px;height:38.2px;line-height:38.2px;color:#111"><span>25</span></div>
<div class="n" style="left:440.06px;top:1140px;width:87.06px;height:38.2px;line-height:38.2px;color:#111"><span>26</span></div>
<div class="n" style="left:529.12px;top:1140px;width:87.06px;height:38.2px;line-height:38.2px;color:#111"><span>27</span></div>
<div class="n" style="left:618.18px;top:1140px;width:87.06px;height:38.2px;line-height:38.2px;color:#111"><span>28</span></div>
<div class="n" style="left:707.24px;top:1140px;width:87.06px;height:38.2px;line-height:38.2px;color:#111"><span>29</span></div>
<div class="n" style="left:796.3px;top:1140px;width:86px;height:38.2px;line-height:38.2px;color:#245c9e"><span>30</span></div>
<div class="n" style="left:263.8px;top:1222px;width:85.2px;height:38.9px;line-height:38.9px;color:#c8153a"><span>31</span></div>
<div class="h" style="left:287.6px;top:785px;color:#c8153a;transform:scaleX(1.15);">日</div>
<div class="h" style="left:375.23px;top:785px;color:#111;">月</div>
<div class="h" style="left:464.29px;top:785px;color:#111;">火</div>
<div class="h" style="left:553.35px;top:785px;color:#111;">水</div>
<div class="h" style="left:642.41px;top:785px;color:#111;">木</div>
<div class="h" style="left:731.47px;top:785px;color:#111;">金</div>
<div class="h" style="left:819.5px;top:785px;color:#245c9e;">土</div>
<div class="td" style="left:381.55px;top:715.2px;">２</div>
<div class="td" style="left:424.75px;top:715.2px;">０</div>
<div class="td" style="left:468.05px;top:715.2px;">２</div>
<div class="td" style="left:511.55px;top:715.2px;">６</div>
<div class="tk" style="left:555.25px;top:719px;">年</div>
<div class="td" style="left:641.75px;top:715.2px;">５</div>
<div class="tk" style="left:686.75px;top:719px;">月</div>
<div class="n" style="left:1080.8px;top:819.6px;width:87.3px;height:37.9px;line-height:37.9px;color:#111"><span>1</span></div>
<div class="n" style="left:1170.1px;top:819.6px;width:87.3px;height:37.9px;line-height:37.9px;color:#111"><span>2</span></div>
<div class="n" style="left:1259.4px;top:819.6px;width:87.3px;height:37.9px;line-height:37.9px;color:#111"><span>3</span></div>
<div class="n" style="left:1348.7px;top:819.6px;width:87.3px;height:37.9px;line-height:37.9px;color:#111"><span>4</span></div>
<div class="n" style="left:1438px;top:819.6px;width:87.3px;height:37.9px;line-height:37.9px;color:#111"><span>5</span></div>
<div class="n" style="left:1527.3px;top:819.6px;width:85.3px;height:37.9px;line-height:37.9px;color:#245c9e"><span>6</span></div>
<div class="n" style="left:993px;top:899.7px;width:85.8px;height:38.2px;line-height:38.2px;color:#c8153a"><span>7</span></div>
<div class="n" style="left:1080.8px;top:899.7px;width:87.3px;height:38.2px;line-height:38.2px;color:#111"><span>8</span></div>
<div class="n" style="left:1170.1px;top:899.7px;width:87.3px;height:38.2px;line-height:38.2px;color:#111"><span>9</span></div>
<div class="n" style="left:1259.4px;top:899.7px;width:87.3px;height:38.2px;line-height:38.2px;color:#111"><span>10</span></div>
<div class="n" style="left:1348.7px;top:899.7px;width:87.3px;height:38.2px;line-height:38.2px;color:#111"><span>11</span></div>
<div class="n" style="left:1438px;top:899.7px;width:87.3px;height:38.2px;line-height:38.2px;color:#111"><span>12</span></div>
<div class="n" style="left:1527.3px;top:899.7px;width:85.3px;height:38.2px;line-height:38.2px;color:#245c9e"><span>13</span></div>
<div class="n" style="left:993px;top:980.1px;width:85.8px;height:38.2px;line-height:38.2px;color:#c8153a"><span>14</span></div>
<div class="n" style="left:1080.8px;top:980.1px;width:87.3px;height:38.2px;line-height:38.2px;color:#111"><span>15</span></div>
<div class="n" style="left:1170.1px;top:980.1px;width:87.3px;height:38.2px;line-height:38.2px;color:#111"><span>16</span></div>
<div class="n" style="left:1259.4px;top:980.1px;width:87.3px;height:38.2px;line-height:38.2px;color:#111"><span>17</span></div>
<div class="n" style="left:1348.7px;top:980.1px;width:87.3px;height:38.2px;line-height:38.2px;color:#111"><span>18</span></div>
<div class="n" style="left:1438px;top:980.1px;width:87.3px;height:38.2px;line-height:38.2px;color:#111"><span>19</span></div>
<div class="n" style="left:1527.3px;top:980.1px;width:85.3px;height:38.2px;line-height:38.2px;color:#245c9e"><span>20</span></div>
<div class="n" style="left:993px;top:1060.5px;width:85.8px;height:38.2px;line-height:38.2px;color:#c8153a"><span>21</span></div>
<div class="n" style="left:1080.8px;top:1060.5px;width:87.3px;height:38.2px;line-height:38.2px;color:#111"><span>22</span></div>
<div class="n" style="left:1170.1px;top:1060.5px;width:87.3px;height:38.2px;line-height:38.2px;color:#111"><span>23</span></div>
<div class="n" style="left:1259.4px;top:1060.5px;width:87.3px;height:38.2px;line-height:38.2px;color:#111"><span>24</span></div>
<div class="n" style="left:1348.7px;top:1060.5px;width:87.3px;height:38.2px;line-height:38.2px;color:#111"><span>25</span></div>
<div class="n" style="left:1438px;top:1060.5px;width:87.3px;height:38.2px;line-height:38.2px;color:#111"><span>26</span></div>
<div class="n" style="left:1527.3px;top:1060.5px;width:85.3px;height:38.2px;line-height:38.2px;color:#245c9e"><span>27</span></div>
<div class="n" style="left:993px;top:1140.9px;width:85.8px;height:38.2px;line-height:38.2px;color:#c8153a"><span>28</span></div>
<div class="n" style="left:1080.8px;top:1140.9px;width:87.3px;height:38.2px;line-height:38.2px;color:#111"><span>29</span></div>
<div class="n" style="left:1170.1px;top:1140.9px;width:87.3px;height:38.2px;line-height:38.2px;color:#111"><span>30</span></div>
<div class="h" style="left:1017.1px;top:786.3px;color:#c8153a;transform:scaleX(1.15);">日</div>
<div class="h" style="left:1105.15px;top:786.3px;color:#111;">月</div>
<div class="h" style="left:1194.45px;top:786.3px;color:#111;">火</div>
<div class="h" style="left:1283.75px;top:786.3px;color:#111;">水</div>
<div class="h" style="left:1373.05px;top:786.3px;color:#111;">木</div>
<div class="h" style="left:1462.35px;top:786.3px;color:#111;">金</div>
<div class="h" style="left:1550.15px;top:786.3px;color:#245c9e;">土</div>
<div class="td" style="left:1111.3px;top:716.8px;">２</div>
<div class="td" style="left:1154.5px;top:716.8px;">０</div>
<div class="td" style="left:1197.8px;top:716.8px;">２</div>
<div class="td" style="left:1241.3px;top:716.8px;">６</div>
<div class="tk" style="left:1285px;top:720.6px;">年</div>
<div class="td" style="left:1371.5px;top:716.8px;">６</div>
<div class="tk" style="left:1416.5px;top:720.6px;">月</div>
<svg class="edge" width="1920" height="1359" viewBox="0 0 1920 1359"><line x1="1897.4" y1="0" x2="1899.7" y2="1345" stroke="#e4e4e4" stroke-width="1.3"/></svg>
</body></html>
